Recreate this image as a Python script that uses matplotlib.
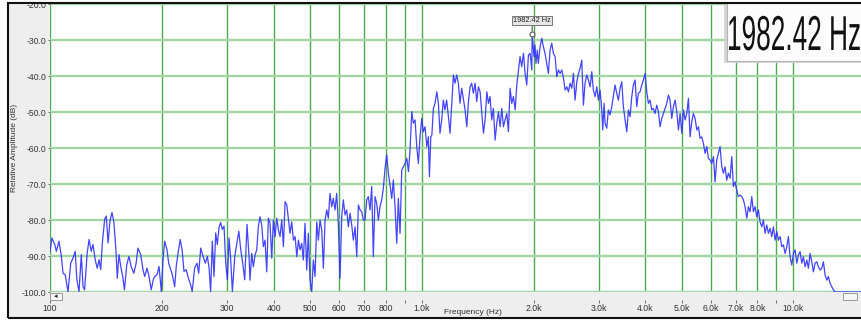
import matplotlib
matplotlib.use('Agg')
import matplotlib.pyplot as plt
from matplotlib.patches import Rectangle, PathPatch
from matplotlib.textpath import TextPath
from matplotlib.font_manager import FontProperties
from matplotlib.transforms import Affine2D
from matplotlib.ticker import NullLocator

plt.rcParams['font.family'] = ['Liberation Sans', 'DejaVu Sans']

# spectrum: frequency (Hz) and relative amplitude (dB), read point by point
freq_hz = [
    100, 101.2, 103.0, 104.0, 105.7, 107.3, 108.4, 109.9, 111.8, 113.7,
    115.3, 116.9, 118.1, 119.7, 121.4, 122.7, 123.9, 125.9, 127.4, 129.1,
    130.5, 132.3, 134.0, 135.5, 136.9, 138.3, 140.3, 141.7, 143.3, 145.0,
    146.8, 148.6, 150.5, 151.7, 153.3, 155.3, 156.9, 158.6, 160.9, 163.1,
    165.3, 168.1, 170.5, 172.4, 175.4, 177.9, 179.8, 182.4, 184.7, 187.2,
    189.6, 191.2, 194.1, 196.5, 199.3, 201.4, 203.5, 206.4, 208.6, 211.2,
    213.3, 216.5, 218.6, 221.0, 224.1, 226.9, 229.3, 232.5, 235.0, 239.0,
    241.3, 244.9, 248.6, 251.2, 254.4, 258.1, 261.8, 265.1, 267.9, 270.5,
    273.3, 276.2, 279.1, 281.9, 284.9, 287.9, 290.8, 293.9, 297.0, 300.0,
    303.2, 306.3, 309.5, 314.1, 317.3, 322.1, 325.9, 330.0, 334.1, 338.9,
    343.1,
    345.2, 348.9, 352.5, 356.1, 359.9, 363.5, 367.3, 371.2, 374.9, 378.9,
    382.9, 386.8, 390.8, 395.0, 398.9, 403.2, 407.4, 411.7, 415.8, 420.2,
    424.6, 429.0, 433.6, 438.2, 442.3, 447.0, 451.7, 456.5, 461.3, 465.9,
    470.6, 475.6, 480.3, 485.4, 490.5, 495.4, 500.7, 506.0, 511.1, 516.5,
    521.9, 527.2, 532.7, 538.4, 543.8, 549.5, 555.3, 560.8, 566.7, 572.7,
    578.4, 584.5, 590.6, 596.5, 602.9, 609.3, 615.4, 621.9, 628.5, 634.8,
    641.5, 648.3, 654.8, 661.8, 668.8, 675.6, 682.5, 689.8, 696.6, 704.0,
    711.4, 718.6, 726.1, 733.8, 741.1, 748.9, 756.8, 764.5, 772.5, 780.6,
    788.5, 796.8, 805.2, 813.3, 821.9, 830.6, 838.9, 847.7, 856.7, 865.3,
    874.4,
    883.7, 892.9, 902.3, 911.9, 921.2, 930.3, 940.2, 949.6, 959.6, 969.8,
    979.5, 989.7, 1000.2, 1010, 1021, 1032, 1042, 1049, 1058, 1065,
    1075, 1086, 1098, 1109, 1120, 1132, 1143, 1155, 1167, 1180,
    1192, 1205, 1217, 1229, 1242, 1255, 1268, 1281, 1294, 1308,
    1322, 1335, 1349, 1363, 1377, 1392, 1406, 1421, 1436, 1451,
    1466, 1481, 1497, 1512, 1527, 1543, 1559, 1576, 1592, 1609,
    1625, 1642, 1659, 1676, 1694, 1711, 1729, 1747, 1765, 1784,
    1802, 1821, 1839, 1858, 1878, 1898, 1917, 1937, 1957, 1978,
    1982.42, 2005, 2017, 2030, 2046, 2059, 2082, 2104, 2125, 2147,
    2169, 2192, 2215, 2238, 2261, 2285, 2309, 2333, 2357, 2382,
    2406, 2431, 2457, 2482, 2507, 2534, 2560, 2586, 2614, 2641,
    2667, 2695, 2723, 2751, 2780, 2808, 2838, 2868, 2896, 2927,
    2958, 2988,
    3019, 3051, 3070, 3095, 3114, 3147, 3178, 3212, 3246, 3278,
    3313, 3347, 3382, 3417, 3453, 3488, 3525, 3562, 3599, 3636,
    3674, 3711, 3750, 3789, 3828, 3868, 3909, 3948, 3990, 4031,
    4072, 4115, 4158, 4200, 4244, 4289, 4333, 4378, 4424, 4470,
    4517, 4564, 4611, 4658, 4707, 4756, 4806, 4856, 4906, 4956,
    5009, 5060, 5113, 5167, 5219, 5272, 5328, 5383, 5439, 5496,
    5552, 5609, 5668, 5726, 5786, 5846, 5907, 5968, 6031, 6093,
    6156, 6221, 6284, 6349, 6416, 6481, 6549, 6617, 6684, 6755,
    6826, 6894, 6966, 7039, 7109, 7187, 7263, 7335, 7413, 7491,
    7566, 7646, 7727, 7804, 7886, 7969, 8049, 8135, 8221, 8303,
    8391, 8479, 8564, 8655, 8747, 8834, 8928, 9022, 9113, 9208,
    9306, 9399, 9498, 9599, 9695, 9796, 9900, 9999, 10105, 10212,
    10314, 10422, 10533, 10638, 10751, 10865, 10974, 11088, 11206, 11318,
    11438, 11559, 11674, 11797, 11922, 12041, 12169, 12298, 12420, 12551,
    12684, 12811, 12947, 15200,
]

level_db = [
    -88.7, -85.0, -86.8, -88.7, -85.9, -90.1, -94.8, -95.2, -100.0, -92.0,
    -90.6, -88.7, -96.6, -99.9, -89.6, -98.5, -99.4, -89.2, -85.4, -88.7,
    -86.8, -91.0, -93.4, -91.0, -93.8, -86.4, -79.8, -78.9, -86.4, -80.3,
    -77.9, -80.7, -88.7, -96.2, -89.6, -93.4, -95.7, -99.4, -92.4, -90.1,
    -92.9, -94.8, -92.0, -87.8, -89.6, -93.8, -95.7, -93.4, -95.7, -99.4,
    -96.6, -95.7, -95.2, -92.9, -99.9, -91.0, -85.9, -88.2, -92.0, -93.8,
    -95.2, -98.5, -92.9, -89.2, -85.4, -88.7, -94.3, -93.8, -95.7, -98.0,
    -99.9, -93.4, -92.0, -94.8, -87.8, -90.1, -92.0, -90.1, -93.4, -99.9,
    -85.9, -95.7, -83.6, -86.8, -82.1, -80.7, -82.6, -81.7, -92.0, -96.6,
    -85.0, -91.0, -99.9, -90.1, -87.3, -83.1, -88.2, -92.0, -96.6, -81.2,
    -90.1,
    -96.7, -89.3, -93.0, -89.7, -88.3, -81.9, -79.1, -81.4, -87.4, -85.6,
    -94.4, -79.5, -80.9, -90.6, -80.0, -84.6, -79.5, -82.8, -84.6, -80.0,
    -87.4, -74.9, -75.8, -80.0, -83.7, -80.5, -85.6, -84.6, -90.2, -85.6,
    -88.3, -86.5, -91.1, -80.9, -93.9, -83.7, -96.7, -99.9, -91.1, -95.7,
    -80.5, -85.6, -80.0, -82.8, -93.4, -80.0, -77.2, -79.5, -72.6, -76.3,
    -74.0, -77.2, -72.6, -80.9, -96.2, -79.1, -74.4, -78.6, -77.2, -81.9,
    -78.1, -81.4, -85.6, -81.9, -90.2, -75.8, -77.2, -77.7, -80.0, -80.0,
    -74.4, -73.5, -77.2, -70.7, -90.2, -73.5, -75.4, -80.0, -76.3, -74.4,
    -71.2, -65.6, -61.9, -67.0, -70.3, -74.0, -68.9, -76.3, -86.5, -74.0,
    -83.7,
    -66.1, -65.2, -64.3, -62.9, -66.6, -60.6, -49.9, -53.1, -52.2, -59.6,
    -64.3, -56.9, -51.8, -55.5, -54.1, -59.6, -56.9, -68.0, -56.9, -56.4,
    -49.0, -47.6, -44.4, -47.6, -55.9, -52.2, -46.7, -49.4, -46.7, -51.3,
    -55.9, -47.6, -39.7, -42.0, -39.7, -42.0, -47.6, -43.4, -46.2, -49.4,
    -54.1, -47.6, -43.0, -42.0, -44.8, -42.0, -47.1, -43.0, -44.4, -50.4,
    -55.9, -52.2, -44.4, -47.6, -45.7, -52.2, -49.0, -57.8, -53.1, -49.9,
    -54.1, -49.0, -54.1, -52.2, -50.4, -55.5, -43.4, -47.6, -45.7, -49.4,
    -42.5, -38.3, -34.6, -37.4, -33.7, -39.3, -42.5, -34.2, -33.7, -38.3,
    -28.3, -34.6, -31.4, -36.5, -32.8, -36.5, -31.9, -29.5, -31.9, -33.7,
    -36.5, -39.3, -32.8, -30.9, -33.7, -34.6, -40.2, -38.3, -39.3, -38.3,
    -40.6, -43.9, -43.0, -44.4, -42.0, -43.4, -39.3, -46.7, -41.6, -39.3,
    -37.9, -35.6, -48.1, -42.0, -39.7, -41.1, -43.0, -38.8, -43.9, -45.7,
    -43.0, -46.7,
    -43.9, -49.4, -55.0, -47.6, -53.1, -54.5, -49.4, -50.8, -48.5, -45.7,
    -42.5, -44.8, -46.7, -43.4, -41.6, -48.5, -52.2, -55.5, -49.4, -51.3,
    -45.7, -42.5, -41.1, -48.5, -44.8, -44.4, -42.5, -41.1, -39.3, -44.4,
    -47.6, -46.7, -49.4, -49.0, -50.4, -48.1, -49.9, -54.1, -51.8, -50.4,
    -49.0, -47.6, -45.3, -46.7, -51.8, -48.5, -46.7, -49.9, -55.0, -50.4,
    -55.9, -49.4, -52.2, -50.4, -46.2, -56.9, -52.7, -50.4, -51.8, -55.0,
    -54.1, -57.3, -56.9, -58.7, -61.5, -59.6, -62.9, -63.3, -64.3, -62.4,
    -69.4, -63.3, -61.5, -59.6, -65.2, -67.0, -65.2, -68.9, -67.0, -68.4,
    -62.4, -70.7, -69.4, -71.7, -73.5, -73.1, -73.5, -74.4, -76.3, -79.5,
    -76.3, -77.7, -73.5, -77.7, -76.3, -79.1, -77.2, -80.5, -81.9, -80.0,
    -83.7, -81.4, -83.7, -82.3, -84.6, -81.9, -85.6, -83.2, -85.6, -84.6,
    -87.4, -86.9, -89.3, -87.4, -84.6, -90.2, -92.5, -89.3, -88.3, -92.0,
    -89.7, -88.8, -92.0, -90.2, -93.0, -91.1, -93.4, -89.3, -91.6, -94.4,
    -92.0, -91.6, -93.0, -93.9, -93.4, -91.6, -95.3, -96.7, -95.7, -97.6,
    -98.5, -99.4, -100.0, -100.0,
]

peak_freq = 1982.42
peak_db = -28.3

grid_freqs = [100, 200, 300, 400, 500, 600, 700, 800, 900,
              1000, 2000, 3000, 4000, 5000, 6000, 7000, 8000, 9000, 10000]
grid_labels = ['100', '200', '300', '400', '500', '600', '700', '800', '',
               '1.0k', '2.0k', '3.0k', '4.0k', '5.0k', '6.0k', '7.0k', '8.0k', '', '10.0k']
db_ticks = [-100, -90, -80, -70, -60, -50, -40, -30, -20]

assert len(freq_hz) == len(level_db)

W, H = 861, 321
fig = plt.figure(figsize=(W / 100, H / 100), dpi=100)
fig.patch.set_facecolor('white')


def box(x0, y0, x1, y1, **kw):
    # rectangle given in pixels measured from the top-left corner
    return Rectangle((x0 / W, 1 - y1 / H), (x1 - x0) / W, (y1 - y0) / H,
                     transform=fig.transFigure, **kw)


# grey window background behind the plot area
fig.add_artist(box(9, 3, 880, 318, facecolor='#eeeeee', edgecolor='none', zorder=-2))

ax = fig.add_axes([50 / W, 1 - 292 / H, (W - 50) / W, (292 - 3) / H])
ax.set_facecolor('white')
ax.set_xscale('log')
ax.set_xlim(100, 15200)
ax.set_ylim(-100, -19.72)

ax.set_xticks(grid_freqs)
ax.set_xticklabels(grid_labels)
ax.xaxis.set_minor_locator(NullLocator())
ax.set_yticks(db_ticks)
ax.set_yticklabels(['%.1f' % v for v in db_ticks])

ax.grid(axis='x', color='#4cab4c', lw=1.0)
ax.grid(axis='y', color='#a3d6a3', lw=1.7)
ax.set_axisbelow(True)
for s in ax.spines.values():
    s.set_visible(False)
ax.spines['bottom'].set_position(('outward', 5.8))

ax.tick_params(axis='x', length=2.2, width=0.7, color='#666666', pad=0.8,
               labelsize=6.2, labelcolor='#333333')
ax.tick_params(axis='y', length=1.8, width=0.7, color='#666666', pad=0.6,
               labelsize=6.2, labelcolor='#333333')

ax.set_xlabel('Frequency (Hz)', fontsize=6, color='#333333')
ax.xaxis.set_label_coords((473 - 50) / 811, -0.06)
ax.set_ylabel('Relative Amplitude (dB)', fontsize=6, color='#333333')
ax.yaxis.set_label_coords((18 - 50) / 811, 0.5)

ax.plot(freq_hz, level_db, color='#2f2fff', lw=0.9, alpha=0.9, zorder=3)

# peak marker with its small label
ax.plot([peak_freq], [peak_db], marker='o', ms=3.6, mfc='white', mec='#555555',
        mew=0.8, zorder=4, clip_on=False)
ax.annotate('%.2f Hz' % peak_freq, xy=(peak_freq, peak_db), xytext=(0, 9.4),
            textcoords='offset points', ha='center', va='center', fontsize=5.3,
            color='#222222', zorder=5,
            bbox=dict(boxstyle='square,pad=0.15', fc='#e6e6e6', ec='#666666', lw=0.6),
            arrowprops=dict(arrowstyle='-', color='#555555', lw=0.8, shrinkA=0, shrinkB=2))

# scroll buttons under the plot
fig.add_artist(box(50, 293, 62, 300, facecolor='#f6f6f6', edgecolor='#8a8a8a', lw=0.6, zorder=6))
fig.text(56 / W, 1 - 296.5 / H, '\u25c2', fontsize=5, ha='center', va='center',
         family='DejaVu Sans', color='#222222', zorder=7)
fig.add_artist(box(843, 293, 857, 300, facecolor='#f6f6f6', edgecolor='#8a8a8a', lw=0.6, zorder=6))

# large readout of the peak frequency, top right
fig.add_artist(box(724, 5, 880, 63, facecolor='#d6d6d6', edgecolor='none', zorder=7))
fig.add_artist(box(727, 3, 880, 61, facecolor='#fcfcfc', edgecolor='#b5b5b5', lw=0.8, zorder=8))
tp = TextPath((0, 0), '%.2f Hz' % peak_freq, size=49,
              prop=FontProperties(family='Liberation Sans'))
tr = Affine2D().scale(0.535 / 100, 1 / 100).translate(727 / 100, (H - 50) / 100) + fig.dpi_scale_trans
fig.add_artist(PathPatch(tp, transform=tr, facecolor='#111111', edgecolor='none', zorder=9))

# window frame
fig.add_artist(box(8, 3, 900, 318, facecolor='none', edgecolor='#111111', lw=1.5, zorder=10))

fig.savefig('out.png', dpi=100)
